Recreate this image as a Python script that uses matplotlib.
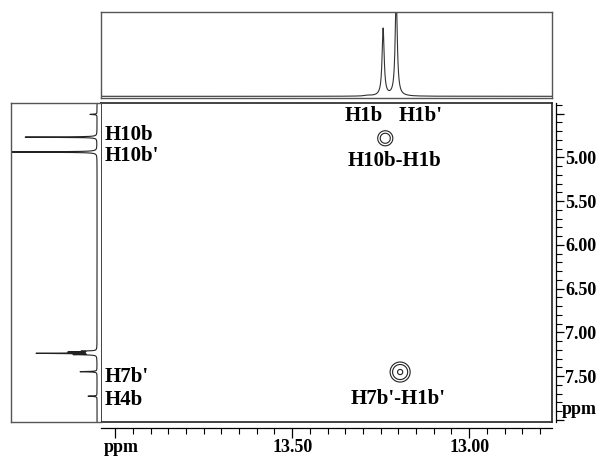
import numpy as np
from matplotlib import pyplot as plt

# F2 (top) projection peaks, ppm / relative height
f2_ppm = [13.243, 13.206, 13.285]
f2_height = [0.80, 1.20, 0.008]

# F1 (left) projection peaks, ppm / relative height
f1_ppm = [4.51, 4.77, 4.94, 7.215, 7.225, 7.24, 7.255, 7.45, 7.73]
f1_height = [0.082, 0.835, 1.30, 0.15, 0.30, 0.686, 0.25, 0.198, 0.105]

# cross peaks
cross_f2 = [13.237, 13.195]
cross_f1 = [4.783, 7.454]
cross_amp = [2.05, 2.5]
contour_levels = [1.0, 1.49, 2.35]

side_labels = ["H10b", "H10b'", "H7b'", "H4b"]
side_label_ppm = [4.75, 4.99, 7.51, 7.77]
top_labels = ["H1b", "H1b'"]
top_label_ppm = [13.299, 13.138]
cross_labels = ["H10b-H1b", "H7b'-H1b'"]
cross_label_pos = [(13.21, 5.04), (13.20, 7.76)]

x_ticks = [13.50, 13.00]
y_ticks = [5.00, 5.50, 6.00, 6.50, 7.00, 7.50]

W, H = 601, 458
XLIM = (14.04, 12.766)
YLIM = (8.025, 4.38)


def lorentz(x, x0, gamma):
    return gamma ** 2 / (gamma ** 2 + (x - x0) ** 2)


def px_axes(fig, x0, y0, x1, y1):
    return fig.add_axes([x0 / W, 1 - y1 / H, (x1 - x0) / W, (y1 - y0) / H])


plt.rcParams['font.family'] = 'Liberation Serif'
plt.rcParams['font.weight'] = 'bold'
plt.rcParams['font.size'] = 13

fig = plt.figure(figsize=(W / 100, H / 100), dpi=100)

# main 2D panel
ax = px_axes(fig, 101, 103, 552, 422)
ax.set_xlim(*XLIM)
ax.set_ylim(*YLIM)
ax.set_xticks([])
ax.set_yticks([])
for s in ax.spines.values():
    s.set_linewidth(1.2)
    s.set_color('#222222')

gx = np.linspace(XLIM[1], XLIM[0], 800)
gy = np.linspace(YLIM[1], YLIM[0], 800)
GX, GY = np.meshgrid(gx, gy)
Z = np.zeros_like(GX)
sig_px = [6.3, 7.4]
for cx, cy, a, sp in zip(cross_f2, cross_f1, cross_amp, sig_px):
    sx = sp / 354.0
    sy = sp / 87.6
    Z += a * np.exp(-((GX - cx) ** 2 / (2 * sx ** 2) + (GY - cy) ** 2 / (2 * sy ** 2)))
ax.contour(GX, GY, Z, levels=contour_levels, colors='#222222', linewidths=0.8)

for lab, (xp, yp) in zip(cross_labels, cross_label_pos):
    ax.text(xp, yp, lab, ha='center', va='center', fontsize=15)
for lab, xp in zip(top_labels, top_label_ppm):
    ax.text(xp, 4.53, lab, ha='center', va='center', fontsize=15)
for lab, yp in zip(side_labels, side_label_ppm):
    ax.text(14.03, yp, lab, ha='left', va='center', fontsize=15)

# bottom axis (offset)
sx_ax = ax.secondary_xaxis(-6 / 319)
sx_ax.set_xticks([14.0] + x_ticks)
sx_ax.set_xticklabels([''] + [f'{v:.2f}' for v in x_ticks])
sx_ax.set_xticks(np.arange(12.80, 14.04, 0.05), minor=True)
sx_ax.tick_params(axis='x', which='major', direction='out', length=7, width=0.9, pad=1, labelsize=13)
sx_ax.tick_params(axis='x', which='minor', direction='out', length=4, width=0.8)
sx_ax.spines['bottom'].set_linewidth(0.9)
ax.text(121 / W, 1 - 447 / H, 'ppm', transform=fig.transFigure, ha='center', va='center', fontsize=13)

# right axis (offset)
sy_ax = ax.secondary_yaxis(1 + 4 / 451)
sy_ax.set_yticks([4.5] + y_ticks + [8.0])
sy_ax.set_yticklabels([''] + [f'{v:.2f}' for v in y_ticks] + [''])
sy_ax.set_yticks(np.arange(4.4, 8.05, 0.1), minor=True)
sy_ax.tick_params(axis='y', which='major', direction='out', length=6, width=0.9, pad=0.5, labelsize=13)
sy_ax.tick_params(axis='y', which='minor', direction='out', length=4, width=0.8)
sy_ax.spines['right'].set_linewidth(0.9)
ax.text(562 / W, 1 - 410 / H, 'ppm', transform=fig.transFigure, ha='left', va='center', fontsize=13)

# top projection
axt = px_axes(fig, 101, 12, 552, 98)
xs = np.linspace(XLIM[1], XLIM[0], 4000)
spec = np.zeros_like(xs)
for p, h in zip(f2_ppm, f2_height):
    spec += h * lorentz(xs, p, 0.0035 if h > 0.1 else 0.01)
axt.plot(xs, spec, color='#333333', lw=0.8)
axt.set_xlim(*XLIM)
axt.set_ylim(-0.02, 1.0)
axt.set_xticks([])
axt.set_yticks([])
for s in axt.spines.values():
    s.set_linewidth(1.0)
    s.set_color('#555555')

# left projection
axl = px_axes(fig, 11, 103, 101, 422)
ys = np.linspace(YLIM[1], YLIM[0], 6000)
proj = np.zeros_like(ys)
for p, h in zip(f1_ppm, f1_height):
    proj += h * lorentz(ys, p, 0.003)
axl.plot(proj, ys, color='#222222', lw=0.8)
axl.set_xlim(1.0, -0.046)
axl.set_ylim(*YLIM)
axl.set_xticks([])
axl.set_yticks([])
axl.spines['right'].set_visible(False)
for s in axl.spines.values():
    s.set_linewidth(1.0)
    s.set_color('#555555')

fig.savefig('out.png', dpi=100)
plt.close(fig)
